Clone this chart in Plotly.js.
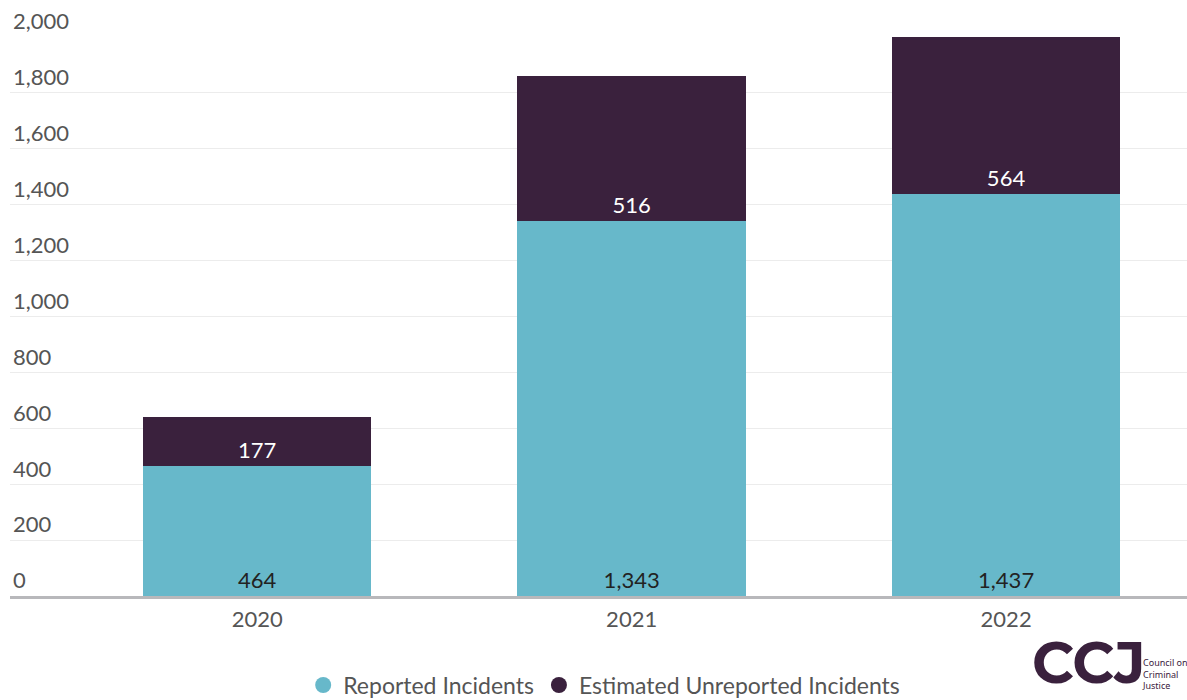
<!DOCTYPE html>
<html>
<head>
<meta charset="utf-8">
<script src="https://cdn.plot.ly/plotly-3.0.1.min.js"></script>
<style>html,body{margin:0;padding:0;background:#fff;}#chart{width:1187px;height:700px;}</style>
</head>
<body>
<div id="chart"></div>
<script>
const years = ['2020', '2021', '2022'];
const reported = [464, 1343, 1437];
const unreported = [177, 516, 564];
const seriesNames = ['Reported Incidents', 'Estimated Unreported Incidents'];
const yTicks = [0, 200, 400, 600, 800, 1000, 1200, 1400, 1600, 1800, 2000];

const teal = '#67b8ca';
const purple = '#3a213d';
const font = 'Lato, "Noto Sans", sans-serif';

const traces = [
  {
    type: 'bar', x: years, y: reported, name: seriesNames[0],
    marker: {color: teal}, showlegend: false,
    texttemplate: '%{y:,}', textposition: 'inside', insidetextanchor: 'start',
    textangle: 0, constraintext: 'none',
    textfont: {family: font, size: 22, color: '#222'}, hoverinfo: 'x+y'
  },
  {
    type: 'bar', x: years, y: unreported, name: seriesNames[1],
    marker: {color: purple}, showlegend: false,
    texttemplate: '%{y:,}', textposition: 'inside', insidetextanchor: 'start',
    textangle: 0, constraintext: 'none',
    textfont: {family: font, size: 22, color: '#ffffff'}, hoverinfo: 'x+y'
  },
  {
    type: 'scatter', mode: 'markers', x: [null], y: [null], name: seriesNames[0],
    marker: {color: teal, size: 22, symbol: 'circle'}, showlegend: true
  },
  {
    type: 'scatter', mode: 'markers', x: [null], y: [null], name: seriesNames[1],
    marker: {color: purple, size: 22, symbol: 'circle'}, showlegend: true
  }
];

const layout = {
  width: 1187, height: 700,
  margin: {l: 10, r: 0, t: 37, b: 104},
  paper_bgcolor: '#fff', plot_bgcolor: '#fff',
  barmode: 'stack', bargap: 0.39,
  font: {family: font, color: '#555'},
  xaxis: {
    type: 'category', range: [-0.66, 2.483],
    showgrid: false, zeroline: false,
    showline: true, linecolor: '#b8b8bb', linewidth: 3,
    ticks: '', tickfont: {family: font, size: 22, color: '#555'},
    ticklabelstandoff: 2
  },
  yaxis: {
    range: [0, 2000], tickvals: yTicks,
    tickformat: ',', showgrid: true, gridcolor: '#ececec', gridwidth: 1,
    zeroline: false, showline: false, ticks: '',
    ticklabelposition: 'inside top', ticklabeloverflow: 'allow',
    tickfont: {family: font, size: 22, color: '#555'}
  },
  legend: {
    orientation: 'h', traceorder: 'normal',
    xref: 'container', yref: 'container',
    x: 0.509, xanchor: 'center', y: 0.0214, yanchor: 'middle',
    font: {family: font, size: 23, color: '#555'},
    itemwidth: 30, tracegroupgap: 0
  },
  annotations: [
    {xref: 'paper', yref: 'paper', x: 0.8666, y: -0.186, xanchor: 'left', yanchor: 'bottom',
     text: '<b>CCJ</b>', showarrow: false,
     font: {family: 'Montserrat, "Noto Sans", sans-serif', size: 58, color: purple}},
    {xref: 'paper', yref: 'paper', x: 0.960, y: -0.14, xanchor: 'left', yanchor: 'middle',
     text: 'Council on<br>Criminal<br>Justice', showarrow: false, align: 'left',
     font: {family: '"Noto Sans", sans-serif', size: 9, color: purple}}
  ]
};

Plotly.newPlot('chart', traces, layout, {displayModeBar: false, staticPlot: true});
</script>
</body>
</html>
